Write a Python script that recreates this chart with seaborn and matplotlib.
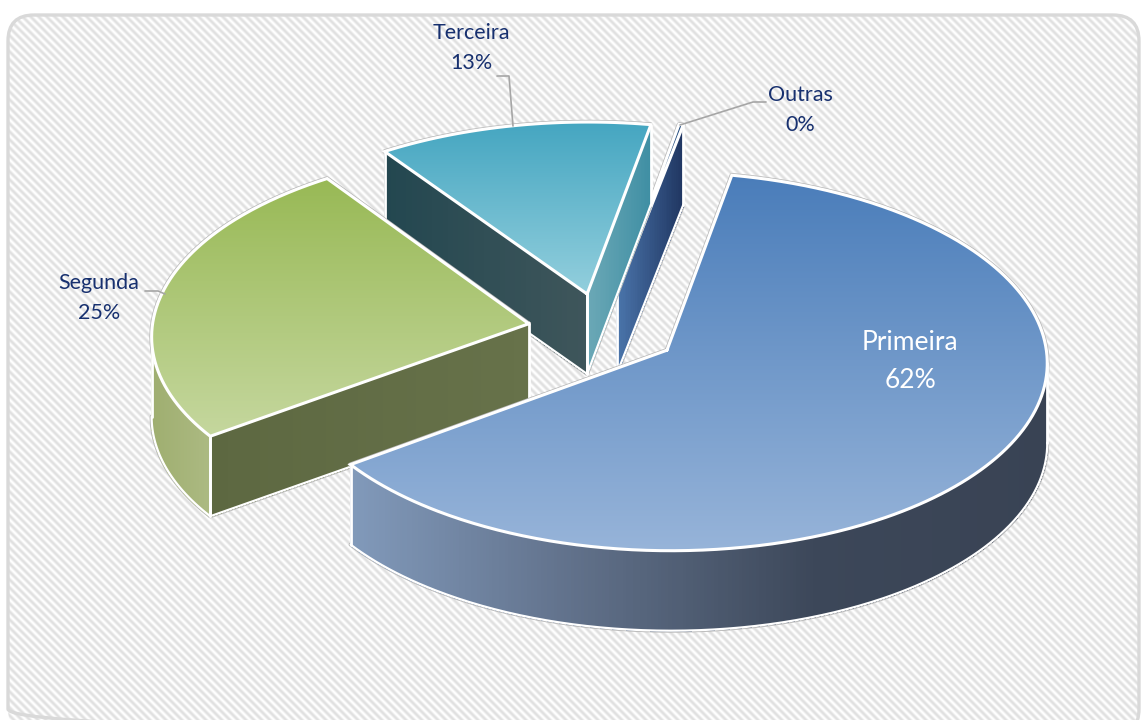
#!/usr/bin/env python3
"""
Exploded 3D pie chart, drawn with projected polygons (matplotlib has no real 3D pie)
Usage: python plot.py
"""

import matplotlib.pyplot as plt
from matplotlib.collections import PolyCollection
from matplotlib.patches import FancyBboxPatch, Polygon
import seaborn as sns
import numpy as np

# Data
categories = ['Primeira', 'Segunda', 'Terceira', 'Outras']
values = [62.3, 25.4, 12.6, 0.2]

# Gradients: top face, outer wall, wall at the slice start, wall at the slice end
top_colors = [['#4a7dba', '#97b4d9'], ['#98b955', '#c5d79e'], ['#45a6c1', '#93cfdd'], ['#1f497d', '#1f497d']]
arc_colors = [['#8199ba', '#5f6f88', '#3c4759', '#394354'], ['#9fae70', '#acba82'], ['#333333', '#333333'], ['#333333', '#333333']]
start_colors = [['#333333', '#333333'], ['#5d6841', '#67724a'], ['#234750', '#3f565b'], ['#333333', '#333333']]
end_colors = [['#333333', '#333333'], ['#333333', '#333333'], ['#6ba8b6', '#3e8ea3'], ['#4a74aa', '#1f3560']]

# Projection of the disc into the picture (pixels)
CX, CY = 603, 330
RADIUS = 377
FLATTEN = 0.494
PERSP = 0.059
DEPTH = 80
EXPLODE = 0.2
START_ANGLE = 11

sns.set_theme(style="white")
plt.rcParams['font.family'] = ['Lato', 'DejaVu Sans']


def project(x, y):
    s = 1 / (1 + PERSP * y)
    return np.column_stack([CX + RADIUS * x * s, CY - FLATTEN * RADIUS * y * s])


def slice_outline(a0, a1):
    mid = np.radians((a0 + a1) / 2)
    ox, oy = EXPLODE * np.sin(mid), EXPLODE * np.cos(mid)
    t = np.radians(np.linspace(a0, a1, max(4, int((a1 - a0) * 2))))
    arc = project(ox + np.sin(t), oy + np.cos(t))
    apex = project(np.array([ox]), np.array([oy]))
    return apex, arc


def draw_wall(ax, pts, colors):
    # one run of the side wall: only the stretch facing the viewer (moving left on screen)
    dx = np.diff(pts[:, 0])
    idx = np.where(dx < 0)[0]
    if len(idx) == 0:
        return None
    run = pts[idx[0]:idx[-1] + 2]
    if len(run) == 2:
        xs = np.linspace(run[0, 0], run[1, 0], 40)
        run = np.column_stack([xs, np.linspace(run[0, 1], run[1, 1], 40)])
    cmap = sns.blend_palette(colors, as_cmap=True)
    xmin, xmax = run[:, 0].min(), run[:, 0].max()
    quads, cols = [], []
    for p, q in zip(run[:-1], run[1:]):
        quads.append([p, q, q + [0, DEPTH], p + [0, DEPTH]])
        cols.append(cmap(((p[0] + q[0]) / 2 - xmin) / max(xmax - xmin, 1)))
    ax.add_collection(PolyCollection(quads, facecolors=cols, edgecolors=cols, linewidths=0.8,
                                     antialiaseds=False, zorder=ax.z))
    return run


fig = plt.figure(figsize=(11.47, 7.2), dpi=100)
ax = fig.add_axes([0, 0, 1, 1])
ax.z = 5

# Panel with diagonal stripes
frame = FancyBboxPatch((8, 15), 1131, 720, boxstyle='round,pad=0,rounding_size=26',
                       facecolor='white', edgecolor='#d9d9d9', linewidth=2.4, zorder=3)
frame.set_facecolor('none')
ax.add_patch(frame)
yy, xx = np.indices((720, 1147))
stripes = 0.5 + 0.5 * np.sin(2 * np.pi * (xx - yy) / 8.0)
stripe_cmap = sns.blend_palette(['#e0e0e0', '#ffffff'], as_cmap=True)
bg = ax.imshow(stripes, cmap=stripe_cmap, extent=(0, 1147, 720, 0), aspect='auto', zorder=2)
bg.set_clip_path(frame)

# Slices, back to front
fractions = np.array(values) / sum(values)
edges = START_ANGLE + np.concatenate([[0], np.cumsum(fractions) * 360])
for i in [3, 2, 1, 0]:
    ax.z += 1
    apex, arc = slice_outline(edges[i], edges[i + 1])
    outline = np.vstack([apex, arc])
    start_wall = draw_wall(ax, np.vstack([apex, arc[:1]]), start_colors[i])
    arc_wall = draw_wall(ax, arc, arc_colors[i])
    end_wall = draw_wall(ax, np.vstack([arc[-1:], apex]), end_colors[i])

    ax.z += 1
    for run in [start_wall, arc_wall, end_wall]:
        if run is None:
            continue
        ax.plot(run[:, 0], run[:, 1] + DEPTH, color='#b5b5b5', lw=2.8, zorder=ax.z - 1.5, solid_capstyle='round')
        ax.plot(run[:, 0], run[:, 1] + DEPTH, color='white', lw=1.6, zorder=ax.z, solid_capstyle='round')
        for p in (run[0], run[-1]):
            ax.plot([p[0], p[0]], [p[1], p[1] + DEPTH], color='white', lw=2.0, zorder=ax.z)

    # Top face with a vertical gradient
    ax.plot(*np.vstack([outline, outline[:1]]).T, color='#b5b5b5', lw=3.2, zorder=ax.z - 1.5)
    ax.z += 1
    top = Polygon(outline, closed=True, facecolor='none', edgecolor='none', zorder=ax.z)
    ax.add_patch(top)
    grad = np.linspace(0, 1, 256)[:, None]
    cmap = sns.blend_palette(top_colors[i], as_cmap=True)
    im = ax.imshow(grad, cmap=cmap, aspect='auto', zorder=ax.z,
                   extent=(outline[:, 0].min(), outline[:, 0].max(), outline[:, 1].max(), outline[:, 1].min()))
    im.set_clip_path(top)
    ax.z += 1
    ax.plot(*np.vstack([outline, outline[:1]]).T, color='white', lw=2.2, zorder=ax.z, solid_joinstyle='miter')

# Leader lines
leaders = [([497, 509, 513], [76, 76, 126]), ([680, 753, 766], [125, 102, 102]), ([145, 158, 165], [291, 291, 294])]
for lx, ly in leaders:
    ax.plot(lx, ly, color='#a6a6a6', lw=1.2, zorder=40)

# Labels
label_pos = [(910, 362), (99, 298), (471, 48), (800, 110)]
for i, (name, val) in enumerate(zip(categories, values)):
    color = 'white' if i == 0 else '#17306f'
    size = 19 if i == 0 else 15.5
    ax.text(label_pos[i][0], label_pos[i][1], f'{name}\n{val:.0f}%', color=color, fontsize=size,
            ha='center', va='center', linespacing=1.65, zorder=41)

ax.set_xlim(0, 1147)
ax.set_ylim(720, 0)
ax.axis('off')
fig.savefig('out.png', dpi=100)
